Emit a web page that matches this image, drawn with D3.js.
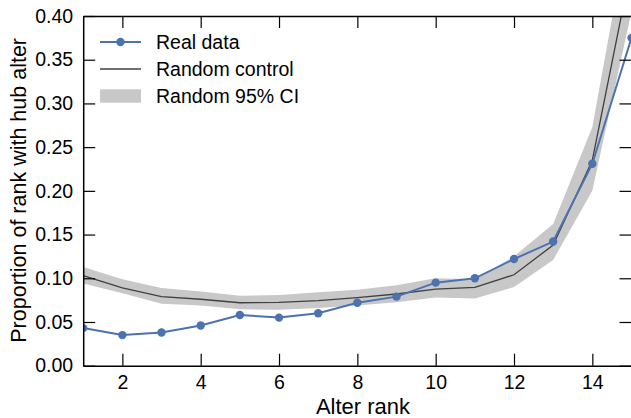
<!DOCTYPE html>
<html>
<head>
<meta charset="utf-8">
<script src="https://cdn.jsdelivr.net/npm/d3@7"></script>
<style>
  html, body { margin: 0; padding: 0; background: #fff; }
  svg { display: block; font-family: "Liberation Sans", Arial, Helvetica, sans-serif; }
</style>
</head>
<body>
<svg id="chart" width="631" height="418"></svg>
<script>
const ranks = [1, 2, 3, 4, 5, 6, 7, 8, 9, 10, 11, 12, 13, 14, 15];
const realData = [0.043, 0.035, 0.038, 0.046, 0.058, 0.055, 0.060, 0.072, 0.079, 0.095, 0.100, 0.122, 0.142, 0.231, 0.375];
const randomMean = [0.103, 0.089, 0.079, 0.076, 0.072, 0.0725, 0.0744, 0.0778, 0.082, 0.0877, 0.0897, 0.104, 0.138, 0.235, 0.458];
const ciLow = [0.094, 0.083, 0.071, 0.069, 0.0645, 0.064, 0.066, 0.069, 0.0725, 0.078, 0.077, 0.090, 0.121, 0.200, 0.405];
const ciHigh = [0.113, 0.099, 0.089, 0.085, 0.080, 0.081, 0.084, 0.087, 0.092, 0.100, 0.099, 0.125, 0.162, 0.273, 0.520];
const xTicks = [2, 4, 6, 8, 10, 12, 14];
const yTicks = [0.00, 0.05, 0.10, 0.15, 0.20, 0.25, 0.30, 0.35, 0.40];
const legendLabels = ["Real data", "Random control", "Random 95% CI"];

const svg = d3.select("#chart");
const mLeft = 83.2, mRight = 631.5, mTop = 16, mBottom = 365.7;
const x = d3.scaleLinear().domain([1, 15]).range([mLeft, mRight]);
const y = d3.scaleLinear().domain([0, 0.4]).range([mBottom, mTop]);

const blue = "#4c72b0", gray = "#c8c8c8", dark = "#404040";

svg.append("defs").append("clipPath").attr("id", "clip")
  .append("rect").attr("x", mLeft).attr("y", mTop).attr("width", mRight - mLeft).attr("height", mBottom - mTop);

const plot = svg.append("g").attr("clip-path", "url(#clip)");
const rows = ranks.map((r, i) => ({ r, real: realData[i], mean: randomMean[i], lo: ciLow[i], hi: ciHigh[i] }));

plot.append("path").datum(rows)
  .attr("fill", gray)
  .attr("d", d3.area().x(d => x(d.r)).y0(d => y(d.lo)).y1(d => y(d.hi)));

plot.append("path").datum(rows)
  .attr("fill", "none").attr("stroke", dark).attr("stroke-width", 1.3)
  .attr("d", d3.line().x(d => x(d.r)).y(d => y(d.mean)));

plot.append("path").datum(rows)
  .attr("fill", "none").attr("stroke", blue).attr("stroke-width", 2)
  .attr("d", d3.line().x(d => x(d.r)).y(d => y(d.real)));

plot.selectAll("circle.pt").data(rows).enter().append("circle")
  .attr("class", "pt")
  .attr("cx", d => x(d.r)).attr("cy", d => y(d.real)).attr("r", 4.2)
  .attr("fill", blue);

// axes
const tickLen = 12;
const xAxisB = d3.axisBottom(x).tickValues(xTicks).tickSizeInner(-tickLen).tickSizeOuter(0).tickPadding(9).tickFormat(d3.format("d"));
const xAxisT = d3.axisTop(x).tickValues(xTicks).tickSizeInner(-tickLen).tickSizeOuter(0).tickFormat("");
const yAxisL = d3.axisLeft(y).tickValues(yTicks).tickSizeInner(-tickLen).tickSizeOuter(0).tickPadding(10).tickFormat(d3.format(".2f"));
const yAxisR = d3.axisRight(y).tickValues(yTicks).tickSizeInner(-tickLen).tickSizeOuter(0).tickFormat("");

function style(g) {
  g.select(".domain").attr("stroke", "#000").attr("stroke-width", 1.5);
  g.selectAll(".tick line").attr("stroke", "#000").attr("stroke-width", 1.2);
  g.selectAll(".tick text").attr("fill", "#000").style("font-size", "19.5px").style("font-family", "Liberation Sans, Arial, sans-serif");
}
svg.append("g").attr("transform", `translate(0,${mBottom})`).call(xAxisB).call(style);
svg.append("g").attr("transform", `translate(0,${mTop})`).call(xAxisT).call(style);
svg.append("g").attr("transform", `translate(${mLeft},0)`).call(yAxisL).call(style);
svg.append("g").attr("transform", `translate(${mRight},0)`).call(yAxisR).call(style);

// axis labels
svg.append("text").attr("x", 363).attr("y", 414)
  .attr("text-anchor", "middle").style("font-size", "22px").text("Alter rank");
svg.append("text").attr("transform", `translate(26,${(mTop + mBottom) / 2 - 0.5}) rotate(-90)`)
  .attr("text-anchor", "middle").style("font-size", "21.5px").text("Proportion of rank with hub alter");

// legend
const lg = svg.append("g");
const lx0 = 100, lx1 = 141, tx = 156;
const rowY = [42, 69, 96];
lg.append("line").attr("x1", lx0).attr("x2", lx1).attr("y1", rowY[0]).attr("y2", rowY[0]).attr("stroke", blue).attr("stroke-width", 2);
lg.append("circle").attr("cx", (lx0 + lx1) / 2).attr("cy", rowY[0]).attr("r", 4.2).attr("fill", blue);
lg.append("line").attr("x1", lx0).attr("x2", lx1).attr("y1", rowY[1]).attr("y2", rowY[1]).attr("stroke", dark).attr("stroke-width", 1.3);
lg.append("rect").attr("x", lx0).attr("y", rowY[2] - 6.7).attr("width", lx1 - lx0).attr("height", 13.4).attr("fill", gray);
legendLabels.forEach((t, i) => {
  lg.append("text").attr("x", tx).attr("y", rowY[i]).attr("dy", "0.35em").style("font-size", "19.5px").text(t);
});
</script>
</body>
</html>
